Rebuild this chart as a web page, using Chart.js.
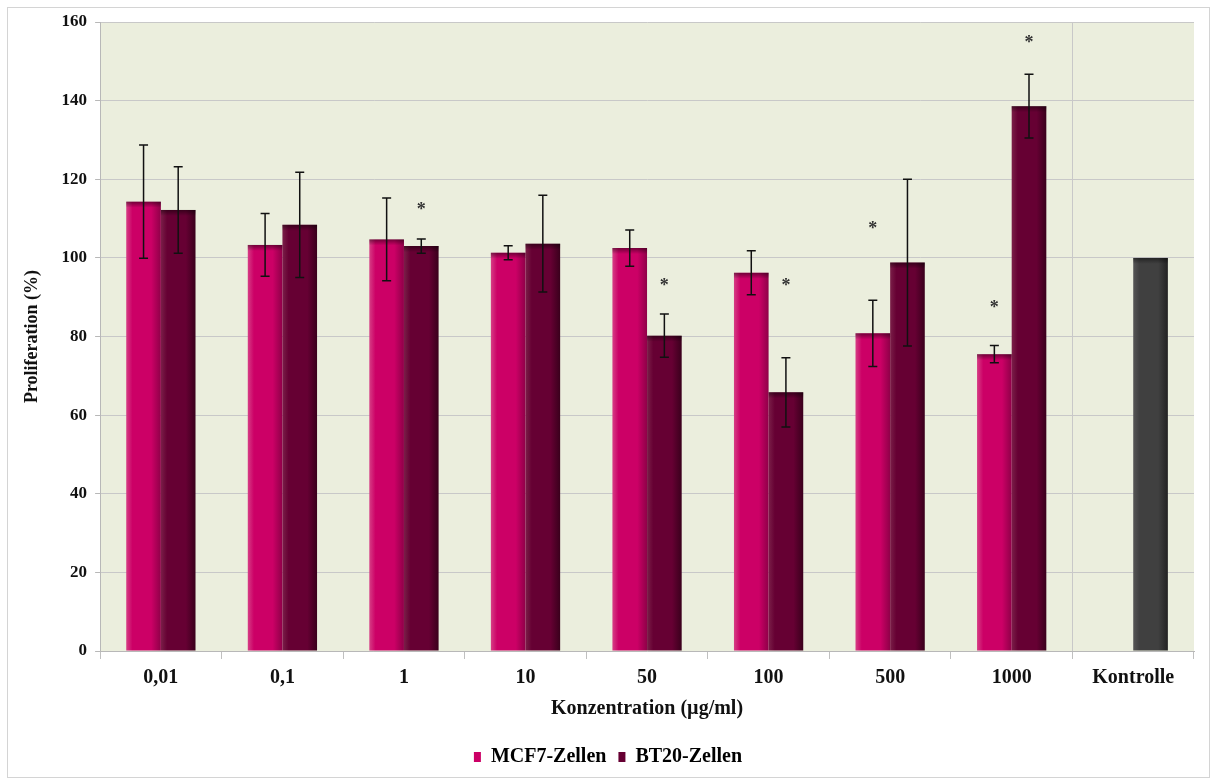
<!DOCTYPE html>
<html lang="de">
<head>
<meta charset="UTF-8">
<title>Proliferation</title>
<script src="https://cdn.jsdelivr.net/npm/chart.js"></script>
<style>
  html, body { margin: 0; padding: 0; background: #fff; }
  #wrap { width: 1212px; height: 782px; position: relative; }
</style>
</head>
<body>
<div id="wrap"><canvas id="myChart" width="1212" height="782"></canvas></div>
<script>
// Konzentrationen (µg/ml) plus Kontrolle
const labels = ['0,01', '0,1', '1', '10', '50', '100', '500', '1000', 'Kontrolle'];

// Proliferation in % (Mittelwert)
const mcf7 = [114.3, 103.3, 104.7, 101.3, 102.5, 96.2, 80.8, 75.5, null];
const bt20 = [112.2, 108.4, 103.0, 103.6, 80.2, 65.8, 98.8, 138.6, 100];

// Standardabweichung
const mcf7Err = [14.4, 8.0, 10.5, 1.8, 4.6, 5.6, 8.4, 2.2, null];
const bt20Err = [11.0, 13.4, 1.8, 12.3, 5.5, 8.8, 21.2, 8.1, null];

// Höhe der Signifikanz-Sternchen
const mcf7Stars = [null, null, null, null, null, null, 108.3, 88.3, null];
const bt20Stars = [null, null, 113.2, null, 93.7, 93.7, null, 155.7, null];

const FONT = "'Liberation Serif', 'Times New Roman', serif";
const CAT_PCT = 0.57;

// horizontaler Verlauf für die Balken (leichter 3D-Effekt)
function barFill(light, base, dark, lastColor) {
  return function (ctx) {
    const chart = ctx.chart;
    const xs = chart.scales && chart.scales.x;
    if (ctx.dataIndex === undefined || !xs || !chart.chartArea) return base;
    const isLast = lastColor && ctx.dataIndex === labels.length - 1;
    const cols = isLast ? lastColor : [light, base, dark];
    const cw = xs.width / labels.length;
    const w = cw * CAT_PCT / 2;
    const cx = xs.getPixelForValue(ctx.dataIndex) + (ctx.datasetIndex === 0 ? -w / 2 : w / 2);
    const g = chart.ctx.createLinearGradient(cx - w / 2, 0, cx + w / 2, 0);
    g.addColorStop(0, cols[0]);
    g.addColorStop(0.18, cols[1]);
    g.addColorStop(0.72, cols[1]);
    g.addColorStop(1, cols[2]);
    return g;
  };
}

const plotBg = {
  id: 'plotBg',
  beforeDraw(chart) {
    const { ctx, chartArea: a } = chart;
    ctx.save();
    ctx.fillStyle = '#ebeedd';
    ctx.fillRect(a.left, a.top, a.right - a.left, a.bottom - a.top);
    ctx.strokeStyle = '#d4d4d4';
    ctx.lineWidth = 1;
    ctx.strokeRect(7.5, 7.5, chart.width - 10, chart.height - 12);
    ctx.restore();
  }
};

// Fehlerbalken, dunkle Oberkante und Sternchen
const extras = {
  id: 'extras',
  afterDatasetsDraw(chart) {
    const { ctx } = chart;
    const y = chart.scales.y;
    const errs = [mcf7Err, bt20Err];
    const stars = [mcf7Stars, bt20Stars];
    ctx.save();
    chart.data.datasets.forEach((ds, di) => {
      const meta = chart.getDatasetMeta(di);
      meta.data.forEach((bar, i) => {
        const v = ds.data[i];
        if (v === null) return;
        // Schatten an der Oberkante
        const g = ctx.createLinearGradient(0, bar.y, 0, bar.y + 6);
        g.addColorStop(0, 'rgba(0,0,0,0.45)');
        g.addColorStop(1, 'rgba(0,0,0,0)');
        ctx.fillStyle = g;
        ctx.fillRect(bar.x - bar.width / 2, bar.y, bar.width, 6);

        const e = errs[di][i];
        if (e !== null) {
          const top = y.getPixelForValue(v + e);
          const bot = y.getPixelForValue(v - e);
          ctx.strokeStyle = '#111';
          ctx.lineWidth = 1.5;
          ctx.beginPath();
          ctx.moveTo(bar.x, top); ctx.lineTo(bar.x, bot);
          ctx.moveTo(bar.x - 4.5, top); ctx.lineTo(bar.x + 4.5, top);
          ctx.moveTo(bar.x - 4.5, bot); ctx.lineTo(bar.x + 4.5, bot);
          ctx.stroke();
        }
        const s = stars[di][i];
        if (s !== null) {
          ctx.fillStyle = '#333';
          ctx.font = 'bold 18px ' + FONT;
          ctx.textAlign = 'center';
          ctx.textBaseline = 'middle';
          ctx.fillText('*', bar.x, y.getPixelForValue(s) + 4);
        }
      });
    });
    ctx.restore();
  }
};

const chart = new Chart(document.getElementById('myChart'), {
  type: 'bar',
  data: {
    labels: labels,
    datasets: [{
      label: 'MCF7-Zellen',
      data: mcf7,
      backgroundColor: barFill('#d63d85', '#cc0066', '#8f0048'),
      categoryPercentage: CAT_PCT,
      barPercentage: 1.0
    }, {
      label: 'BT20-Zellen',
      data: bt20,
      backgroundColor: barFill('#7a1f48', '#660033', '#3a001c', ['#555555', '#404040', '#222222']),
      categoryPercentage: CAT_PCT,
      barPercentage: 1.0
    }]
  },
  options: {
    responsive: false,
    animation: false,
    layout: { padding: { left: 22, right: 18, top: 22, bottom: 5 } },
    plugins: {
      legend: {
        position: 'bottom',
        labels: {
          boxWidth: 7,
          boxHeight: 10,
          padding: 12,
          color: '#111',
          font: { family: FONT, size: 20, weight: 'bold' },
          generateLabels(chart) {
            return [
              { text: 'MCF7-Zellen', fillStyle: '#cc0066', strokeStyle: '#cc0066', lineWidth: 0, datasetIndex: 0 },
              { text: 'BT20-Zellen', fillStyle: '#660033', strokeStyle: '#660033', lineWidth: 0, datasetIndex: 1 }
            ];
          }
        }
      },
      tooltip: { enabled: false }
    },
    scales: {
      x: {
        grid: {
          offset: true,
          color: (c) => c.index === 8 ? '#c8c8c8' : 'rgba(0,0,0,0)',
          tickColor: '#c0c0c0',
          tickLength: 8
        },
        border: { color: '#b8b8b8' },
        ticks: { color: '#111', font: { family: FONT, size: 20, weight: 'bold' }, padding: 7 },
        title: {
          display: true,
          text: 'Konzentration (µg/ml)',
          color: '#111',
          font: { family: FONT, size: 20, weight: 'bold' },
          padding: { top: 0, bottom: 14 }
        }
      },
      y: {
        min: 0,
        max: 160,
        ticks: { stepSize: 20, color: '#111', font: { family: FONT, size: 17, weight: 'bold' }, padding: 8 },
        grid: { color: '#c8c8c8', tickColor: '#b8b8b8', tickLength: 5 },
        border: { color: '#b8b8b8' },
        title: {
          display: true,
          text: 'Proliferation (%)',
          color: '#111',
          font: { family: FONT, size: 18, weight: 'bold' },
          padding: { top: 0, bottom: 10 }
        }
      }
    }
  },
  plugins: [plotBg, extras]
});
</script>
</body>
</html>
